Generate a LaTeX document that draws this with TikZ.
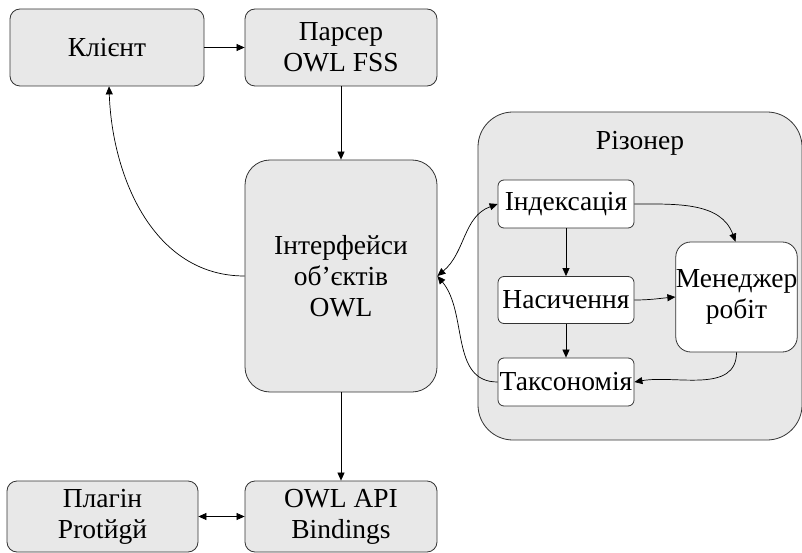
\documentclass[tikz,border=0pt]{standalone}
\usepackage{fontspec}
\setmainfont{Liberation Serif}
\newfontfamily\diagfont{Liberation Serif}
\usetikzlibrary{arrows.meta}
\definecolor{boxgray}{HTML}{E8E8E8}

\begin{document}
\begin{tikzpicture}[x=1pt,y=-1pt,->,>={Triangle[length=8pt,width=7pt]},line width=0.8pt,
	main node/.style={draw=black!80,fill=boxgray,rounded corners=10pt,align=center,
		font=\diagfont\fontsize{27.5}{31}\selectfont,inner sep=0pt,minimum width=192pt,minimum height=77pt},
	inner node/.style={draw=black!80,fill=white,rounded corners=6pt,align=center,
		font=\diagfont\fontsize{27.5}{31}\selectfont,inner sep=0pt,minimum width=136pt,minimum height=48pt}]
	\useasboundingbox (0,0) rectangle (802,553);
	
	% reasoner group
	\node[main node, minimum width=324pt, minimum height=328pt, rounded corners=35pt] (reasoner) at (640,276) {};
	\node[font=\diagfont\fontsize{27.5}{31}\selectfont] (reasonertitle) at (640,143) {Різонер};
	
	\node[main node, minimum width=194pt] (client) at (107,47.5) {Клієнт};
	\node[main node] (parser) at (341,47.5) {Парсер\\OWL FSS};
	\node[main node, minimum height=232pt, rounded corners=25pt] (iface) at (341,276) {Інтерфейси\\об’єктів\\OWL};
	\node[main node, minimum width=191pt, minimum height=71pt] (plugin) at (102.5,516.5) {Плагін\\Protйgй};
	\node[main node, minimum height=71pt] (api) at (341,516.5) {OWL API\\Bindings};
	
	\node[inner node] (index) at (566,204) {Індексація};
	\node[inner node, minimum height=47pt] (satur) at (566,300) {Насичення};
	\node[inner node] (taxon) at (566,382) {Таксономія};
	\node[inner node, minimum width=121pt, minimum height=110pt, rounded corners=15pt] (manager) at (736.5,297) {Менеджер\\робіт};
	
	\path[line width=0.7pt]
	(client) edge (parser)
	(parser) edge (iface)
	(iface) edge (api)
	(plugin) edge[<->] (api)
	(iface.west) edge[out=180,in=-88] ([xshift=2pt]client.south)
	(iface.east) edge[<->,out=40,in=200] (index.west)
	(taxon.west) edge[out=180,in=-50] (iface.east)
	(index) edge (satur)
	(satur) edge (taxon)
	(index.east) edge[out=0,in=110] ([xshift=-1pt]manager.north)
	(satur.east) edge[out=0,in=185] (manager.west)
	(manager.south) edge[out=-90,in=10] (taxon.east);
\end{tikzpicture}
\end{document}
